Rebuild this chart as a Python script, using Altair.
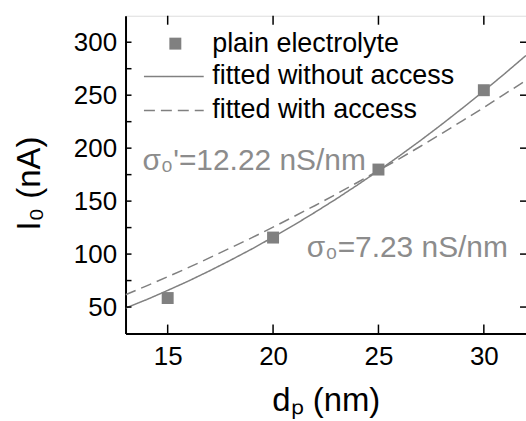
import altair as alt
import pandas as pd

# measured data points
d_points = [15, 20, 25, 30]
i_points = [58.5, 115.6, 179.8, 254.7]

# fitted curves
fit_d = [13, 14, 15, 16, 17, 18, 19, 20, 21, 22, 23, 24, 25, 26, 27, 28, 29, 30, 31, 32]
fit_without_access = [49, 57, 65.7, 74.7, 84.3, 94.4, 104.9, 116, 127.5, 139.6, 152.1, 165.2,
                      178.7, 192.8, 207.3, 222.4, 238, 254, 270.5, 287.5]
fit_with_access = [61.6, 70, 78.6, 87.4, 96.6, 106, 115.5, 125.4, 135.6, 145.9, 156.6, 167.6,
                   178.8, 190.1, 201.8, 213.8, 226, 238.4, 251.2, 264]

series_names = ["plain electrolyte", "fitted without access", "fitted with access"]

ann_text = ["σ₀'=12.22 nS/nm", "σ₀=7.23 nS/nm"]
ann_d = [13.8, 21.6]
ann_i = [188, 106]

y_ticks_left = [50, 75, 100, 125, 150, 175, 200, 225, 250, 275, 300]
y_ticks_right = [50, 100, 150, 200, 250, 300]
x_ticks = [15, 20, 25, 30]

W, H = 402, 319
FONT = "Liberation Sans"
GRAY = "#808080"

pts = pd.DataFrame({"d": d_points, "I": i_points, "series": series_names[0]})
lines = pd.concat([
    pd.DataFrame({"d": fit_d, "I": fit_without_access, "series": series_names[1]}),
    pd.DataFrame({"d": fit_d, "I": fit_with_access, "series": series_names[2]}),
])
ann = pd.DataFrame({"d": ann_d, "I": ann_i, "t": ann_text})

xs = alt.Scale(domain=[13, 32], nice=False, zero=False)
ys = alt.Scale(domain=[25, 325], nice=False, zero=False)

xenc = alt.X("d:Q", scale=xs, axis=alt.Axis(
    title="dₚ (nm)", values=x_ticks, ticks=False, tickSize=0, grid=False,
    labelFontSize=26, labelPadding=10, titleFontSize=33, titlePadding=15,
    titleFontWeight="normal", domainColor="black", domainWidth=2,
    labelColor="black", titleColor="black", labelFont=FONT, titleFont=FONT))
yenc = alt.Y("I:Q", scale=ys, axis=alt.Axis(
    title="I₀ (nA)", values=y_ticks_right, ticks=False, tickSize=0, grid=False,
    labelFontSize=26, labelPadding=9, titleFontSize=33, titlePadding=27, titleY=168,
    titleFontWeight="normal", domainColor="black", domainWidth=2,
    labelColor="black", titleColor="black", labelFont=FONT, titleFont=FONT))

line_layer = alt.Chart(lines).mark_line(color=GRAY, strokeWidth=1.5, clip=True).encode(
    x=xenc, y=yenc,
    strokeDash=alt.StrokeDash("series:N",
        scale=alt.Scale(domain=series_names[1:], range=[[1, 0], [11, 6]]),
        legend=alt.Legend(title=None, orient="none", legendX=35, legendY=47.5,
                          symbolType="M-30,0H30", symbolSize=4, symbolStrokeColor=GRAY,
                          symbolStrokeWidth=1.5, labelFontSize=27, labelFont=FONT,
                          labelOffset=25, rowPadding=6, padding=0, labelColor="black",
                          labelLimit=0)),
)

point_layer = alt.Chart(pts).mark_point(filled=True, color=GRAY, size=144, opacity=1).encode(
    x="d:Q", y="I:Q",
    shape=alt.Shape("series:N",
        scale=alt.Scale(domain=series_names[:1], range=["square"]),
        legend=alt.Legend(title=None, orient="none", legendX=36.5, legendY=14.5,
                          symbolSize=144, symbolFillColor=GRAY, symbolStrokeWidth=0,
                          symbolOpacity=1, labelFontSize=27, labelFont=FONT,
                          labelOffset=23.5, padding=0, labelColor="black", labelLimit=0)),
)

ann_layer = alt.Chart(ann).mark_text(align="left", baseline="middle", fontSize=30,
                                     font=FONT, color="#8c8c8c").encode(
    x="d:Q", y="I:Q", text="t:N")

ytl = pd.DataFrame({"v": y_ticks_left})
ytr = pd.DataFrame({"v": y_ticks_right})
xt = pd.DataFrame({"v": x_ticks})
tick_style = dict(color="black", strokeWidth=1.5)
left_ticks = alt.Chart(ytl).mark_rule(**tick_style).encode(
    y=alt.Y("v:Q", scale=ys), x=alt.value(0), x2=alt.value(6))
right_ticks = alt.Chart(ytr).mark_rule(**tick_style).encode(
    y=alt.Y("v:Q", scale=ys), x=alt.value(W - 6), x2=alt.value(W))
bottom_ticks = alt.Chart(xt).mark_rule(**tick_style).encode(
    x=alt.X("v:Q", scale=xs), y=alt.value(H - 9), y2=alt.value(H))
top_ticks = alt.Chart(xt).mark_rule(**tick_style).encode(
    x=alt.X("v:Q", scale=xs), y=alt.value(0), y2=alt.value(9))

chart = alt.layer(line_layer, point_layer, ann_layer,
                  left_ticks, right_ticks, bottom_ticks, top_ticks).resolve_legend(
    shape="independent", strokeDash="independent"
).properties(
    width=W, height=H,
    autosize=alt.AutoSizeParams(type="none"),
    padding={"left": 126, "top": 15, "right": 0, "bottom": 87},
).configure_view(stroke="black", strokeWidth=2).configure(background="white")

chart.save("out.html", embed_options={"renderer": "svg", "actions": False})
